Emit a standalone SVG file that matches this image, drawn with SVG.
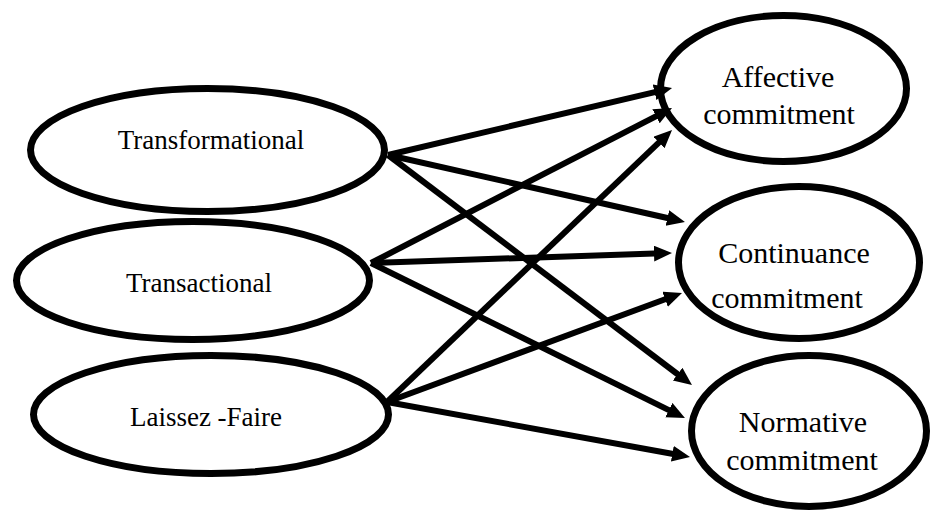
<svg xmlns="http://www.w3.org/2000/svg" width="932" height="513" viewBox="0 0 932 513">
<style>
.node{fill:#fff;stroke:#000;stroke-width:7}
text{font-family:'Liberation Serif','DejaVu Serif',Times,serif;fill:#000;text-anchor:middle}
.l{font-size:27px}
.r{font-size:30px}
.conn line{stroke:#000;stroke-width:6;marker-end:url(#ah)}
</style>
<defs>
<marker id="ah" markerUnits="userSpaceOnUse" markerWidth="20" markerHeight="18" refX="8" refY="8" orient="auto" viewBox="0 0 20 18">
<path d="M0,0 L18,8 L0,16 z" fill="#000"/>
</marker>
</defs>
<rect width="932" height="513" fill="#fff"/>
<g id="transformational">
<ellipse class="node" cx="207.5" cy="150" rx="177" ry="61.5"/>
<text class="l" x="211" y="149" font-family="Liberation Serif, serif">Transformational</text>
</g>
<g id="transactional">
<ellipse class="node" cx="193" cy="280.5" rx="176.5" ry="59"/>
<text class="l" x="199" y="292" font-family="Liberation Serif, serif">Transactional</text>
</g>
<g id="laissez-faire">
<ellipse class="node" cx="211" cy="414.5" rx="177.5" ry="59"/>
<text class="l" x="206" y="426" font-family="Liberation Serif, serif">Laissez -Faire</text>
</g>
<g id="affective">
<ellipse class="node" cx="783.5" cy="88.5" rx="123" ry="73"/>
<text class="r" x="778" y="87" font-family="Liberation Serif, serif">Affective</text>
<text class="r" x="779" y="124" font-family="Liberation Serif, serif">commitment</text>
</g>
<g id="continuance">
<ellipse class="node" cx="799" cy="262.5" rx="120.5" ry="76"/>
<text class="r" x="794" y="263" font-family="Liberation Serif, serif">Continuance</text>
<text class="r" x="787" y="308" font-family="Liberation Serif, serif">commitment</text>
</g>
<g id="normative">
<ellipse class="node" cx="809" cy="431" rx="117.5" ry="75.5"/>
<text class="r" x="803" y="432" font-family="Liberation Serif, serif">Normative</text>
<text class="r" x="802" y="470" font-family="Liberation Serif, serif">commitment</text>
</g>
<g id="connectors" class="conn">
<line x1="388" y1="155" x2="662.3" y2="90.3"/>
<line x1="388" y1="155" x2="675.2" y2="219.8"/>
<line x1="388" y1="155" x2="684.0" y2="379.0"/>
<line x1="371" y1="263" x2="663.1" y2="112.6"/>
<line x1="371" y1="263" x2="662.0" y2="253.3"/>
<line x1="371" y1="263" x2="676.0" y2="413.6"/>
<line x1="387" y1="402" x2="664.8" y2="136.9"/>
<line x1="387" y1="402" x2="672.6" y2="296.5"/>
<line x1="387" y1="402" x2="680.2" y2="455.2"/>
</g>
</svg>
